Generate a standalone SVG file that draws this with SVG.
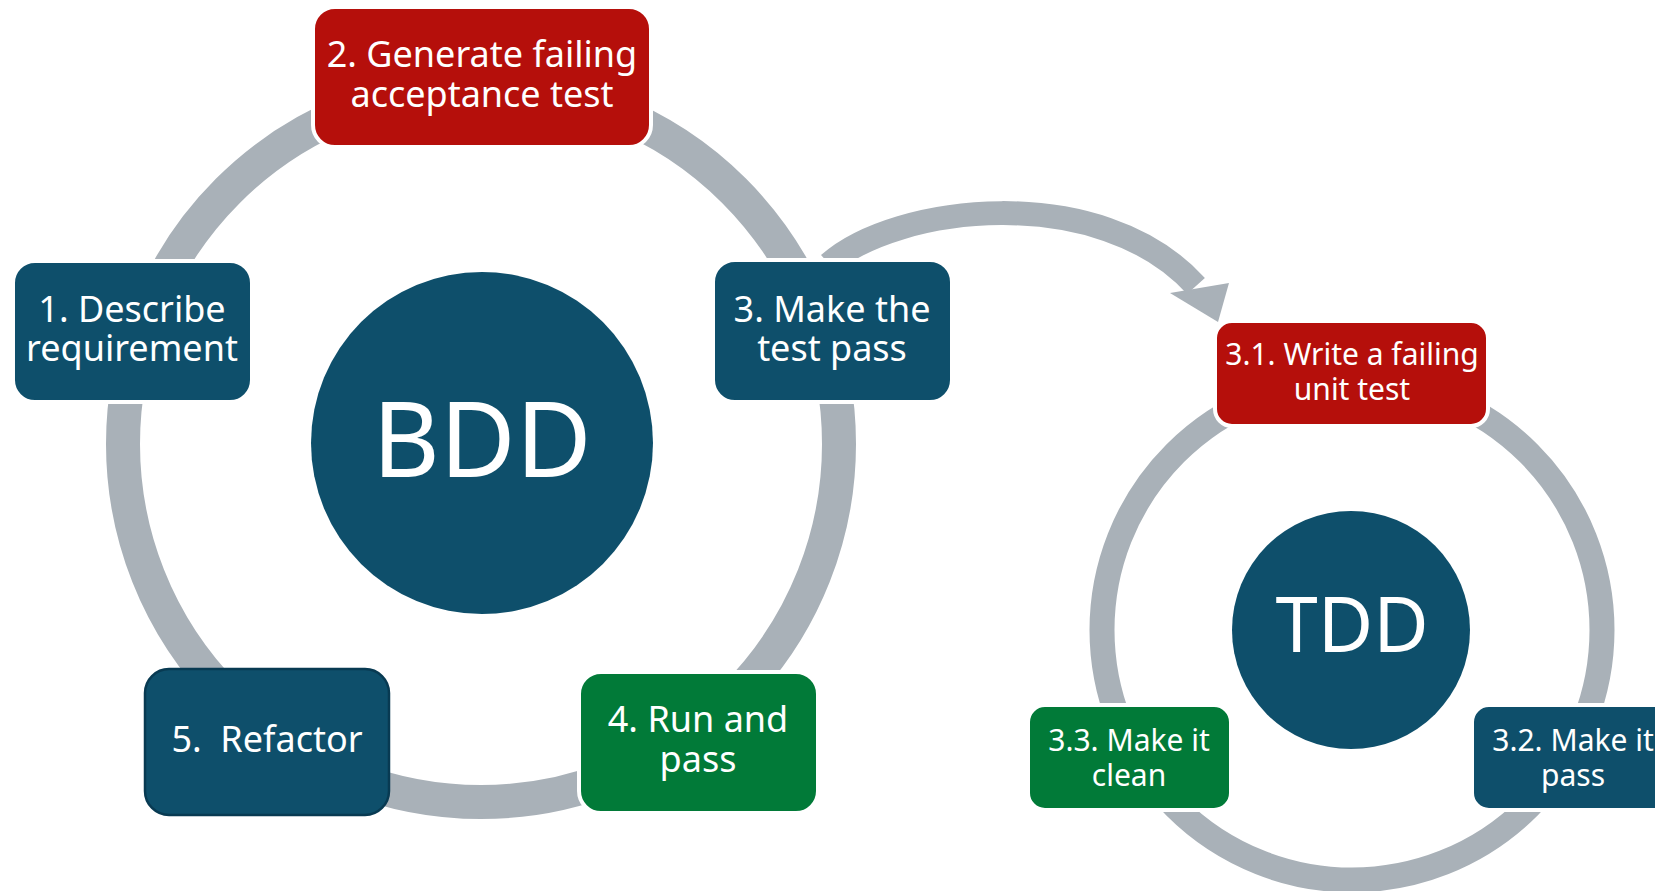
<svg xmlns="http://www.w3.org/2000/svg" width="1655" height="891" viewBox="0 0 1655 891">
<style>
.ring{fill:none;stroke:#A9B1B8}
.box{stroke:#FFFFFF;stroke-width:4}
.navy{fill:#0E4F6B}
.red{fill:#B50F0B}
.green{fill:#017A38}
.t{fill:#FFFFFF;font-family:"Noto Sans","Open Sans","DejaVu Sans",sans-serif;text-anchor:middle}
.tb{font-size:36px}
.ts{font-size:30px}
</style>
<rect width="1655" height="891" fill="#FFFFFF"/>
<g id="connectors">
<circle class="ring" cx="481" cy="444" r="358" stroke-width="34"/>
<circle class="ring" cx="1352" cy="630" r="250" stroke-width="25"/>
<path class="ring" d="M 829 264 C 895 205, 1100 180, 1196 286" stroke-width="24"/>
<polygon points="1170,293 1229,283 1218,322" fill="#A9B1B8"/>
</g>
<g id="bdd">
<circle class="navy" cx="482" cy="443" r="171"/>
<text class="t" x="482" y="477" font-size="104">BDD</text>
</g>
<g id="node1">
<rect class="box navy" x="13" y="261" width="239" height="141" rx="22"/>
<text class="t tb"><tspan x="132" y="322">1. Describe</tspan><tspan x="132" y="361">requirement</tspan></text>
</g>
<g id="node2">
<rect class="box red" x="313" y="7" width="338" height="140" rx="22"/>
<text class="t tb"><tspan x="482" y="67">2. Generate failing</tspan><tspan x="482" y="107">acceptance test</tspan></text>
</g>
<g id="node3">
<rect class="box navy" x="713" y="260" width="239" height="142" rx="22"/>
<text class="t tb"><tspan x="832" y="322">3. Make the</tspan><tspan x="832" y="361">test pass</tspan></text>
</g>
<g id="node4">
<rect class="box green" x="579" y="672" width="239" height="141" rx="22"/>
<text class="t tb"><tspan x="698" y="732">4. Run and</tspan><tspan x="698" y="772">pass</tspan></text>
</g>
<g id="node5">
<rect class="navy" x="145" y="669" width="244" height="146" rx="24" stroke="#083A52" stroke-width="2.5"/>
<text class="t tb" x="267" y="752" xml:space="preserve">5.  Refactor</text>
</g>
<g id="tdd">
<circle class="navy" cx="1351" cy="630" r="119"/>
<text class="t" x="1352" y="652" font-size="76">TDD</text>
</g>
<g id="node31">
<rect class="box red" x="1215" y="321" width="273" height="105" rx="17"/>
<text class="t ts"><tspan x="1352" y="365">3.1. Write a failing</tspan><tspan x="1352" y="400">unit test</tspan></text>
</g>
<g id="node32">
<rect class="box navy" x="1472" y="705" width="203" height="105" rx="17"/>
<text class="t ts"><tspan x="1573" y="751">3.2. Make it</tspan><tspan x="1573" y="786">pass</tspan></text>
</g>
<g id="node33">
<rect class="box green" x="1028" y="705" width="203" height="105" rx="17"/>
<text class="t ts"><tspan x="1129" y="751">3.3. Make it</tspan><tspan x="1129" y="786">clean</tspan></text>
</g>
</svg>
